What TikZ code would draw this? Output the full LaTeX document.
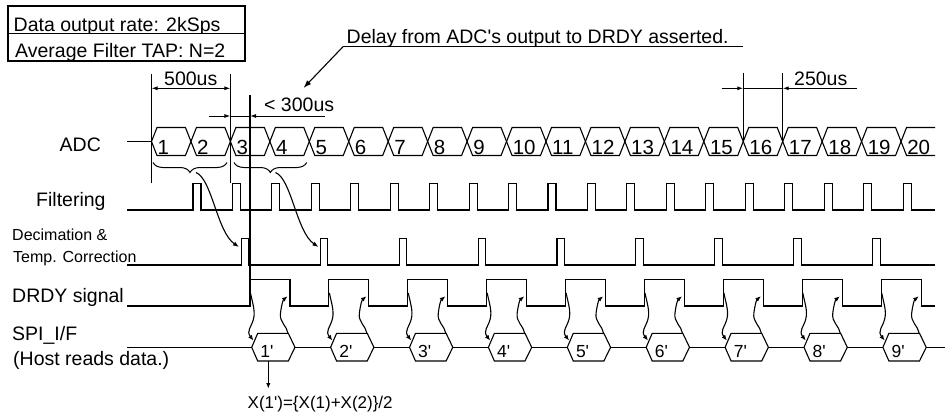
\documentclass[tikz,border=0pt]{standalone}
\usepackage{fontspec}
\setmainfont{Liberation Sans}
\usetikzlibrary{arrows.meta,decorations.pathreplacing}
\begin{document}
\begin{tikzpicture}[x=1pt,y=-1pt,
  sig/.style={line width=1.1pt, line join=miter},
  thin1/.style={line width=1pt},
  lbl/.style={anchor=base west, inner sep=0pt, font=\fontsize{19.5}{22}\selectfont},
  sml/.style={anchor=base west, inner sep=0pt, font=\fontsize{16}{18}\selectfont},
  dig/.style={anchor=base west, inner sep=0pt, font=\fontsize{20.5}{22}\selectfont},
  spil/.style={anchor=base west, inner sep=0pt, font=\fontsize{17.5}{20}\selectfont},
  dimarr/.style={line width=1pt, -{Latex[length=6pt,width=4pt]}},
  wavy/.style={line width=1.1pt, -{Latex[length=5.5pt,width=4.5pt]}},
  bracestyle/.style={line width=1pt, decorate, decoration={brace, mirror, amplitude=10pt}},
]
\useasboundingbox (0,0) rectangle (946,416);

% ---------- info boxes ----------
\begin{scope}
\clip (8,6) rectangle (245,33.3);
\node[lbl] (rate) at (13.5,31) {Data output rate: 2kSps};
\end{scope}
\begin{scope}
\clip (8,33.3) rectangle (245,61);
\node[lbl] (tap) at (15,57.5) {Average Filter TAP: N=2};
\end{scope}
\draw[sig] (8,6) rectangle (245,33.3);
\draw[sig] (8,33.3) rectangle (245,61);

% ---------- delay note ----------
\node[lbl] (delay) at (346.5,43) {Delay from ADC\textquotesingle s output to DRDY asserted.};
\coordinate (dl0) at (343,46.7);
\coordinate (dl1) at (743,46.7);
\coordinate (dlt) at (303.5,88);
\draw[thin1] (dl1) -- (dl0);
\draw[line width=1.1pt,-{Latex[length=8pt,width=5.5pt]}] (dl0) -- (dlt);

% ---------- 500us ----------
\coordinate (v1t) at (151.5,74);   \coordinate (v1b) at (151.5,183.3);
\coordinate (v3t) at (230.4,74);   \coordinate (v3b) at (230.4,183.3);
\draw[thin1] (v1t) -- (v1b);
\draw[thin1] (v3t) -- (v3b);
\coordinate (a500l) at (151.5,88.3); \coordinate (a500r) at (230.4,88.3);
\draw[line width=1pt,{Latex[length=6pt,width=4pt]}-{Latex[length=6pt,width=4pt]}] (a500l) -- (a500r);
\node[lbl] (t500) at (164,85) {500us};

% ---------- < 300us ----------
\coordinate (a3a) at (209,116); \coordinate (a3b) at (230.4,116);
\coordinate (a3c) at (250,116); \coordinate (a3d) at (325,116);
\draw[dimarr] (a3a) -- (a3b);
\draw[dimarr] (a3d) -- (a3c);
\draw[thin1] (a3b) -- (a3c);
\node[lbl] (t300) at (264,111) {< 300us};

% ---------- 250us ----------
\coordinate (v16t) at (743.25,73); \coordinate (v16b) at (743.25,141.5);
\coordinate (v17t) at (782.7,73);  \coordinate (v17b) at (782.7,141.5);
\draw[thin1] (v16t) -- (v16b);
\draw[thin1] (v17t) -- (v17b);
\coordinate (a2a) at (721.7,88.3); \coordinate (a2b) at (743.25,88.3);
\coordinate (a2c) at (782.7,88.3); \coordinate (a2d) at (856.7,88.3);
\draw[dimarr] (a2a) -- (a2b);
\draw[dimarr] (a2d) -- (a2c);
\draw[thin1] (a2b) -- (a2c);
\node[lbl] (t250) at (794,85) {250us};

% ---------- long vertical marker ----------
\coordinate (lvt) at (250,95); \coordinate (lvb) at (250,306);
\draw[sig] (lvt) -- (lvb);

% ---------- ADC row ----------
\node[lbl] (adc) at (59.5,151) {ADC};
\draw[sig] (127,141.5) -- (151.5,141.5);
\foreach \k [evaluate=\k as \a using 151.5+(\k-1)*39.45, evaluate=\k as \b using 151.5+\k*39.45] in {1,...,19} {
  \draw[sig] (\a,141.5) -- (\a+5.5,127.5) -- (\b-5.5,127.5) -- (\b,141.5) -- (\b-5.5,155.5) -- (\a+5.5,155.5) -- cycle;
  \node[dig] (c\k) at (\a+6,154.3) {\k};
}
\draw[sig] (935,127.5) -- (906.55,127.5) -- (901.05,141.5) -- (906.55,155.5) -- (935,155.5);
\node[dig] (c20) at (907.05,154.3) {20};

% ---------- braces and curved arrows ----------
\draw[bracestyle] (153,162.5) -- (227,162.5);
\draw[bracestyle] (234,162.5) -- (306.7,162.5);
\draw[line width=1.1pt,-{Latex[length=6pt,width=4.5pt]}] (196,172.5) .. controls (212,179) and (217,232) .. (239,247);
\draw[line width=1.1pt,-{Latex[length=6pt,width=4.5pt]}] (275.5,172.5) .. controls (291.5,179) and (296.5,232) .. (318.5,247);

% ---------- Filtering ----------
\node[lbl] (filt) at (36,206.7) {Filtering};
\draw[sig] (127,210) \foreach \k [evaluate=\k as \a using 151.5+(\k-1)*39.45] in {2,...,20} { -- (\a+2,210) -- (\a+2,183.3) -- (\a+10,183.3) -- (\a+10,210) } -- (935,210);

% ---------- Decimation ----------
\node[sml] (dec1) at (12,240) {Decimation \&};
\node[sml] (dec2) at (13,262.7) {Temp. Correction};
\draw[sig] (127,265) \foreach \n [evaluate=\n as \a using 241.4+\n*78.9] in {0,...,8} { -- (\a,265) -- (\a,238.3) -- (\a+7.5,238.3) -- (\a+7.5,265) } -- (935,265);

% ---------- DRDY ----------
\node[lbl] (drdy) at (12,302) {DRDY signal};
\draw[sig] (127,306) \foreach \n [evaluate=\n as \r using 250+\n*78.9] in {0,...,8} { -- (\r,306) -- (\r,279.3) -- (\r+40,279.3) -- (\r+40,306) } -- (935,306);

% ---------- SPI ----------
\node[lbl] (spi1) at (12,340) {SPI\_I/F};
\node[lbl] (spi2) at (13,365) {(Host reads data.)};
\draw[sig] (127,347.3) -- (251.7,347.3);
\foreach \n [evaluate=\n as \l using 251.7+\n*78.9, evaluate=\n as \m using int(\n+1)] in {0,...,8} {
  \draw[sig] (\l,347.3) -- (\l+6,333.3) -- (\l+36.6,333.3) -- (\l+43.3,347.3) -- (\l+36.6,361) -- (\l+6,361) -- cycle;
  \node[spil] (h\m) at (\l+8.5,357.3) {\m\textquotesingle};
}
\foreach \n [evaluate=\n as \l using 251.7+\n*78.9] in {0,...,7} {
  \draw[sig] (\l+43.3,347.3) -- (\l+78.9,347.3);
}
\draw[sig] (926.2,347.3) -- (945,347.3);

% ---------- DRDY <-> SPI squiggles ----------
\foreach \n [evaluate=\n as \r using 250+\n*78.9] in {0,...,8} {
  \draw[wavy] (\r+0.5,293) .. controls (\r+2.5,303) and (\r+5.5,311) .. (\r+3.5,319) .. controls (\r+1.5,327) and (\r-4,331) .. (\r+3.5,340.5);
  \draw[wavy] (\r+38,333.3) .. controls (\r+37,326) and (\r+29,322) .. (\r+30.5,313) .. controls (\r+31.5,305) and (\r+33,300) .. (\r+37.5,296.3);
}

% ---------- formula ----------
\coordinate (fa) at (268.3,361); \coordinate (fb) at (268.3,388.5);
\draw[wavy] (fa) -- (fb);
\node[anchor=base west, inner sep=0pt, font=\fontsize{17}{19}\selectfont] (form) at (247.5,408.3) {X(1\textquotesingle)=\{X(1)+X(2)\}/2};
\end{tikzpicture}
\end{document}
